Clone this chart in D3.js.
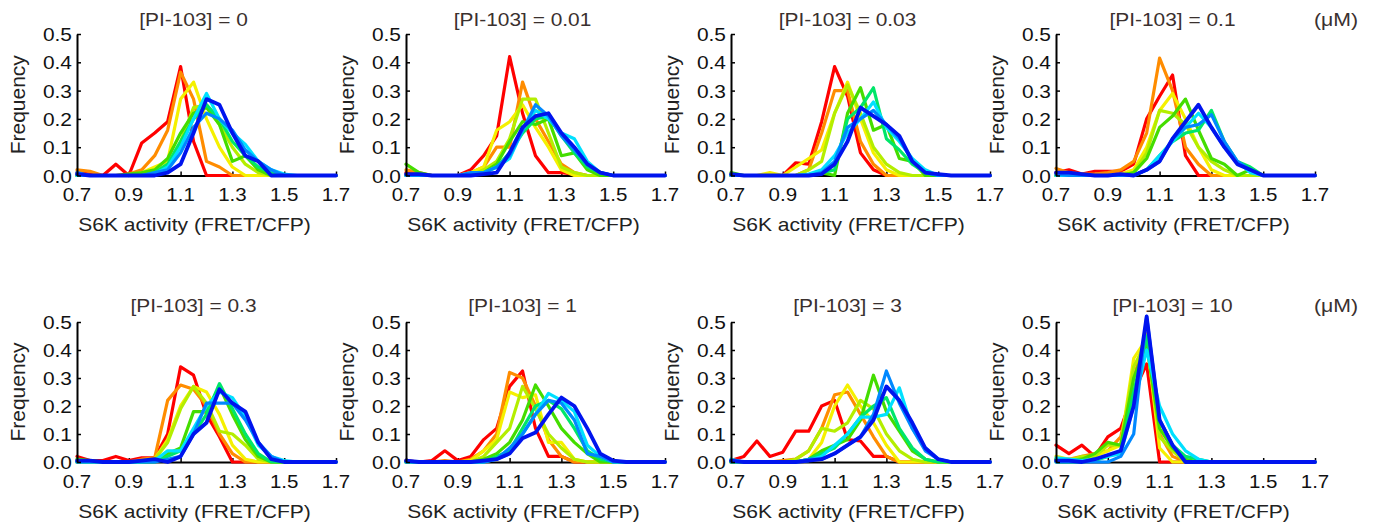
<!DOCTYPE html>
<html><head><meta charset="utf-8">
<script src="https://cdn.jsdelivr.net/npm/d3@7"></script>
<style>body{margin:0;background:#fff}svg{display:block}text{font-family:"Liberation Sans",Arial,sans-serif}</style>
</head><body>
<svg id="c" width="1378" height="529"></svg>
<script>
const bins = [0.7,0.75,0.8,0.85,0.9,0.95,1.0,1.05,1.1,1.15,1.2,1.25,1.3,1.35,1.4,1.45,1.5,1.55,1.6,1.65,1.7];
const xTicks = [0.7,0.9,1.1,1.3,1.5,1.7];
const xTickLabels = ["0.7","0.9","1.1","1.3","1.5","1.7"];
const yTicks = [0,0.1,0.2,0.3,0.4,0.5];
const yTickLabels = ["0.0","0.1","0.2","0.3","0.4","0.5"];
const concentrations = ["0","0.01","0.03","0.1","0.3","1","3","10"];
const seriesColors = ["#ff0000","#ff8c00","#f5f000","#b4ee00","#44dd00","#00e66a","#00e0ff","#0088ff","#0014ee"];

const freq_0 = [
[0.01,0.005,0,0.04,0,0.115,0.15,0.19,0.385,0.12,0,0,0,0,0,0,0,0,0,0,0],
[0.02,0.015,0,0,0.005,0.02,0.07,0.16,0.365,0.27,0.05,0.03,0,0,0,0,0,0,0,0,0],
[0,0,0,0,0,0.01,0.03,0.05,0.27,0.33,0.2,0.1,0.03,0,0,0,0,0,0,0,0],
[0,0,0,0,0,0,0.01,0.04,0.12,0.24,0.25,0.18,0.1,0.04,0.01,0,0,0,0,0,0],
[0,0,0,0,0.005,0.01,0.02,0.06,0.15,0.22,0.24,0.18,0.05,0.07,0.02,0,0,0,0,0,0],
[0,0,0,0,0,0,0.01,0.04,0.12,0.2,0.25,0.2,0.12,0.07,0.03,0.01,0,0,0,0,0],
[0,0,0,0,0,0,0.005,0.03,0.1,0.2,0.29,0.2,0.15,0.11,0.05,0.02,0.005,0,0,0,0],
[0.01,0,0,0,0,0,0.01,0.02,0.08,0.17,0.22,0.2,0.16,0.09,0.05,0.02,0,0,0,0,0],
[0.005,0,0,0,0,0,0,0.01,0.04,0.15,0.27,0.25,0.15,0.07,0.05,0,0,0,0,0,0]];
const freq_001 = [
[0.01,0.005,0,0,0,0.02,0.07,0.14,0.42,0.22,0.07,0.01,0.01,0.005,0,0,0,0,0,0,0],
[0.02,0.01,0,0,0,0.01,0.03,0.1,0.1,0.33,0.2,0.12,0.04,0.01,0,0,0,0,0,0,0],
[0,0,0,0,0,0.01,0.03,0.16,0.19,0.25,0.17,0.1,0.02,0,0,0,0,0,0,0,0],
[0,0,0,0,0,0,0.02,0.05,0.13,0.27,0.27,0.15,0.03,0.01,0,0,0,0,0,0,0],
[0.04,0.01,0,0,0,0,0.01,0.04,0.12,0.19,0.18,0.2,0.07,0.08,0.02,0,0,0,0,0,0],
[0,0,0,0,0,0,0.01,0.03,0.08,0.15,0.2,0.21,0.14,0.08,0.03,0.01,0,0,0,0,0],
[0,0,0,0,0,0,0.01,0.03,0.06,0.16,0.23,0.2,0.15,0.13,0.05,0.01,0,0,0,0,0],
[0,0,0,0,0,0.01,0.01,0.03,0.07,0.16,0.25,0.21,0.14,0.09,0.04,0.01,0,0,0,0,0],
[0.005,0.005,0,0,0,0,0.005,0.01,0.08,0.17,0.21,0.22,0.15,0.1,0.04,0.01,0,0,0,0,0]];
const freq_003 = [
[0,0,0,0,0,0.045,0.04,0.19,0.385,0.28,0.08,0.02,0,0,0,0,0,0,0,0,0],
[0,0,0,0,0,0,0.02,0.15,0.3,0.3,0.12,0.04,0,0,0,0,0,0,0,0,0],
[0,0,0,0.01,0,0.03,0.06,0.09,0.22,0.33,0.2,0.08,0.02,0,0,0,0,0,0,0,0],
[0,0,0,0,0,0,0.02,0.05,0.22,0.32,0.22,0.1,0.04,0.01,0,0,0,0,0,0,0],
[0.01,0,0,0,0,0,0,0.01,0,0.22,0.31,0.16,0.18,0.06,0.05,0,0,0,0,0,0],
[0,0,0,0,0,0,0,0.01,0.02,0.2,0.24,0.31,0.13,0.09,0.04,0.01,0,0,0,0,0],
[0,0,0,0,0,0,0.005,0.02,0.07,0.15,0.2,0.26,0.17,0.12,0.06,0.02,0,0,0,0,0],
[0,0,0,0,0,0,0,0.01,0.05,0.17,0.2,0.23,0.18,0.13,0.05,0.01,0,0,0,0,0],
[0.005,0,0,0,0,0,0,0.005,0.04,0.12,0.24,0.21,0.18,0.14,0.05,0.01,0.005,0,0,0,0]];
const freq_01 = [
[0.01,0.02,0.005,0.015,0.015,0.015,0.04,0.2,0.28,0.355,0.07,0,0,0,0,0,0,0,0,0,0],
[0.025,0.01,0.005,0.005,0.01,0.02,0.05,0.15,0.415,0.3,0.1,0.04,0,0,0,0,0,0,0,0,0],
[0,0,0,0,0,0.005,0.02,0.1,0.23,0.29,0.2,0.1,0.02,0,0,0,0,0,0,0,0],
[0,0,0,0,0,0,0.01,0.08,0.23,0.22,0.18,0.1,0.05,0.02,0,0,0,0,0,0,0],
[0,0,0,0,0,0,0.01,0.06,0.17,0.21,0.27,0.16,0.06,0.04,0,0.02,0,0,0,0,0],
[0,0,0,0,0,0,0,0.02,0.07,0.12,0.15,0.16,0.23,0.12,0.05,0.03,0,0,0,0,0],
[0,0,0,0,0,0,0,0.02,0.07,0.12,0.17,0.22,0.17,0.1,0.05,0.01,0,0,0,0,0],
[0.005,0,0,0,0,0,0,0.02,0.05,0.13,0.17,0.18,0.215,0.12,0.05,0.02,0,0,0,0,0],
[0.01,0.01,0.005,0,0,0.005,0,0.02,0.05,0.13,0.19,0.25,0.17,0.1,0.04,0.02,0,0,0,0,0]];
const freq_03 = [
[0.02,0.005,0.005,0.02,0.005,0.015,0.015,0.1,0.34,0.31,0.17,0.09,0,0,0,0,0,0,0,0,0],
[0,0,0,0,0,0.01,0.015,0.22,0.275,0.26,0.2,0.1,0.03,0,0,0,0,0,0,0,0],
[0,0,0,0,0,0,0.01,0.08,0.2,0.27,0.25,0.17,0.06,0.01,0,0,0,0,0,0,0],
[0,0,0,0,0,0,0.01,0.07,0.19,0.27,0.21,0.11,0.1,0.06,0.01,0,0,0,0,0,0],
[0.01,0.005,0,0,0,0,0.005,0.03,0.05,0.18,0.18,0.27,0.17,0.08,0.02,0,0,0,0,0,0],
[0,0,0,0,0,0,0,0.02,0.04,0.1,0.17,0.28,0.19,0.1,0.03,0,0,0,0,0,0],
[0,0,0,0,0,0,0.005,0.04,0.04,0.12,0.2,0.25,0.23,0.16,0.06,0.02,0.005,0,0,0,0],
[0,0,0,0,0,0,0,0.01,0.02,0.1,0.21,0.21,0.21,0.15,0.07,0.02,0,0,0,0,0],
[0.005,0.005,0,0,0,0.005,0.01,0,0.02,0.1,0.14,0.26,0.21,0.18,0.07,0.01,0,0,0,0,0]];
const freq_1 = [
[0.005,0,0.005,0.04,0.005,0.02,0.08,0.12,0.27,0.325,0.12,0.02,0.02,0,0,0,0,0,0,0,0],
[0,0,0,0.005,0,0.01,0.04,0.1,0.32,0.3,0.2,0.08,0.02,0,0,0,0,0,0,0,0],
[0,0,0,0,0,0.005,0.04,0.08,0.25,0.23,0.24,0.07,0.07,0.01,0,0,0,0,0,0,0],
[0,0,0,0,0,0,0.02,0.07,0.12,0.27,0.19,0.1,0.05,0.01,0,0,0,0,0,0,0],
[0,0,0,0,0,0,0.01,0.03,0.07,0.15,0.275,0.2,0.12,0.07,0.03,0,0,0,0,0,0],
[0,0,0,0,0,0,0,0.02,0.04,0.12,0.2,0.22,0.19,0.12,0.04,0.01,0,0,0,0,0],
[0,0,0,0,0,0,0,0.01,0.03,0.1,0.17,0.245,0.22,0.18,0.06,0.02,0,0,0,0,0],
[0,0,0,0,0,0,0,0.01,0.05,0.1,0.17,0.22,0.21,0.15,0.03,0.02,0,0,0,0,0],
[0.005,0,0,0,0,0,0.005,0.01,0.03,0.085,0.105,0.17,0.23,0.2,0.12,0.03,0.005,0,0,0,0]];
const freq_3 = [
[0.005,0.02,0.075,0.02,0.035,0.11,0.11,0.2,0.22,0.08,0.075,0.02,0.02,0,0,0,0,0,0,0,0],
[0,0,0,0,0.005,0.01,0.04,0.12,0.24,0.25,0.17,0.09,0.02,0,0,0,0,0,0,0,0],
[0,0,0,0,0,0,0.01,0.07,0.2,0.275,0.2,0.14,0.06,0,0,0,0,0,0,0,0],
[0,0,0,0,0,0.01,0.04,0.12,0.11,0.14,0.22,0.19,0.1,0.04,0.01,0,0,0,0,0,0],
[0,0,0,0,0,0,0.01,0.04,0.06,0.08,0.15,0.31,0.18,0.11,0.04,0.01,0,0,0,0,0],
[0,0,0,0,0,0,0.01,0.03,0.05,0.1,0.16,0.2,0.23,0.12,0.05,0.01,0,0,0,0,0],
[0.01,0,0,0,0,0,0.005,0.02,0.06,0.1,0.16,0.16,0.17,0.265,0.12,0.05,0.01,0,0,0,0],
[0,0,0,0,0,0,0.01,0.01,0.03,0.06,0.09,0.17,0.325,0.21,0.12,0.04,0.01,0,0,0,0],
[0.005,0,0,0,0,0,0.005,0.01,0.03,0.06,0.09,0.15,0.27,0.22,0.14,0.05,0.01,0,0,0,0]];
const freq_10 = [
[0.06,0.03,0.06,0.02,0.09,0.12,0.25,0.35,0,0,0,0,0,0,0,0,0,0,0,0,0],
[0.01,0.01,0.02,0.03,0.04,0.09,0.3,0.46,0.1,0.02,0,0,0,0,0,0,0,0,0,0,0],
[0.02,0.01,0.01,0.02,0.04,0.06,0.37,0.44,0.05,0,0,0,0,0,0,0,0,0,0,0,0],
[0.01,0.005,0.02,0.02,0.06,0.06,0.34,0.43,0.09,0.04,0,0,0,0,0,0,0,0,0,0,0],
[0.01,0.005,0.01,0.03,0.07,0.06,0.3,0.42,0.12,0.05,0.01,0,0,0,0,0,0,0,0,0,0],
[0,0,0,0.005,0.02,0.04,0.25,0.45,0.15,0.06,0.02,0.01,0,0,0,0,0,0,0,0,0],
[0.015,0.01,0.005,0.01,0.02,0.03,0.2,0.4,0.2,0.1,0.04,0.01,0,0,0,0,0,0,0,0,0],
[0,0,0,0,0,0.02,0.1,0.52,0.15,0.06,0,0,0,0,0,0,0,0,0,0,0],
[0.005,0.005,0,0.01,0.025,0.04,0.2,0.52,0.15,0.06,0,0,0,0,0,0,0,0,0,0,0]];
const panelData = [freq_0, freq_001, freq_003, freq_01, freq_03, freq_1, freq_3, freq_10];

const svg = d3.select("#c");
const colLeft = [77, 406, 731, 1056];
const plotW = 259;
const rows = [{top:34, bottom:175.5, titleY:26, tickY:201, labY:231}, {top:322, bottom:462, titleY:312, tickY:488, labY:518}];

function stext(g, x, y, str, size, sx, anchor, fill, rot) {
  return g.append("text")
    .attr("transform", `translate(${x},${y})` + (rot ? ` rotate(${rot})` : "") + ` scale(${sx},1)`)
    .attr("font-size", size).attr("text-anchor", anchor).attr("fill", fill).text(str);
}

panelData.forEach((series, p) => {
  const r = rows[Math.floor(p / 4)];
  const left = colLeft[p % 4];
  const x = d3.scaleLinear().domain([0.7, 1.7]).range([left, left + plotW]);
  const y = d3.scaleLinear().domain([0, 0.5]).range([r.bottom, r.top]);
  const g = svg.append("g");

  const xa = g.append("g").attr("transform", `translate(0,${r.bottom})`)
    .call(d3.axisBottom(x).tickValues(xTicks).tickSizeInner(-4).tickSizeOuter(0).tickFormat(""));
  xa.select(".domain").attr("stroke", "#000").attr("stroke-width", 2);
  xa.selectAll(".tick line").attr("stroke", "#000").attr("stroke-width", 1.5);

  const line = d3.line().x((d, i) => x(bins[i])).y(d => y(d));
  series.forEach((s, k) => {
    g.append("path").datum(s).attr("d", line).attr("fill", "none")
      .attr("stroke", seriesColors[k]).attr("stroke-width", k === 8 ? 3.8 : 3.2)
      .attr("stroke-linejoin", "round").attr("stroke-linecap", "round");
  });

  const ya = g.append("g").attr("transform", `translate(${left},0)`)
    .call(d3.axisLeft(y).tickValues(yTicks).tickSizeInner(-4).tickSizeOuter(0).tickFormat(""));
  ya.select(".domain").attr("stroke", "#000").attr("stroke-width", 2);
  ya.selectAll(".tick line").attr("stroke", "#000").attr("stroke-width", 1.5);

  yTicks.forEach((v, i) => stext(g, left - 5, y(v) + 7, yTickLabels[i], 19, 1.1, "end", "#111"));
  xTicks.forEach((v, i) => stext(g, x(v), r.tickY, xTickLabels[i], 19, 1.08, "middle", "#111"));
  stext(g, left + plotW / 2 - 12, r.labY, "S6K activity (FRET/CFP)", 18, 1.17, "middle", "#222");
  stext(g, left - 52, (r.top + r.bottom) / 2, "Frequency", 21, 1.0, "middle", "#222", -90);
  stext(g, left + plotW / 2 - 13, r.titleY, "[PI-103] = " + concentrations[p], 19, 1.1, "middle", "#3a302e");
  if (p % 4 === 3) stext(g, 1336, r.titleY, "(μM)", 19, 1.12, "middle", "#3a302e");
});
</script>
</body></html>
